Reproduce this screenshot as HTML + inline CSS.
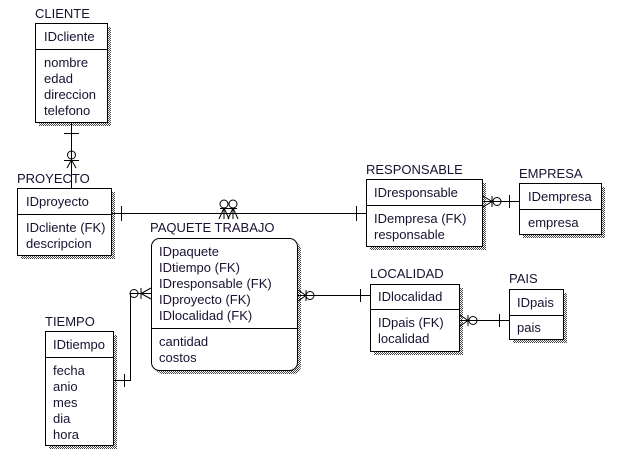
<!DOCTYPE html>
<html><head><meta charset="utf-8"><style>
body{margin:0;background:#fff}
text{font-family:"Liberation Sans",sans-serif;font-size:13px;fill:#1a1030}
</style></head><body>
<svg width="632" height="464" xmlns="http://www.w3.org/2000/svg">
<defs><pattern id="sh" width="2" height="2" patternUnits="userSpaceOnUse"><rect width="2" height="2" fill="#fff"/><rect width="1" height="1" fill="#444"/><rect x="1" y="1" width="1" height="1" fill="#444"/></pattern></defs>
<g stroke="#000" fill="none" stroke-width="1">
<g fill="url(#sh)" stroke="none">
<rect x="39" y="27" width="72" height="99"/>
<rect x="21" y="192" width="94" height="67"/>
<rect x="155" y="242" width="146" height="132" rx="8"/>
<rect x="370" y="183" width="116" height="67"/>
<rect x="523" y="187" width="82" height="51"/>
<rect x="374" y="288" width="89" height="67"/>
<rect x="513" y="293" width="54" height="50"/>
<rect x="49" y="335" width="68" height="114"/>
</g>
<rect x="35.5" y="23.5" width="72" height="99" fill="#fff"/><line x1="35" y1="49.5" x2="108" y2="49.5"/>
<rect x="17.5" y="188.5" width="94" height="67" fill="#fff"/><line x1="17" y1="214.5" x2="112" y2="214.5"/>
<rect x="151.5" y="238.5" width="146" height="132" rx="8" fill="#fff"/><line x1="151" y1="328.5" x2="298" y2="328.5"/>
<rect x="366.5" y="179.5" width="116" height="67" fill="#fff"/><line x1="366" y1="205.5" x2="483" y2="205.5"/>
<rect x="519.5" y="183.5" width="82" height="51" fill="#fff"/><line x1="519" y1="209.5" x2="602" y2="209.5"/>
<rect x="370.5" y="284.5" width="89" height="67" fill="#fff"/><line x1="370" y1="309.5" x2="460" y2="309.5"/>
<rect x="509.5" y="289.5" width="54" height="50" fill="#fff"/><line x1="509" y1="315.5" x2="564" y2="315.5"/>
<rect x="45.5" y="331.5" width="68" height="114" fill="#fff"/><line x1="45" y1="357.5" x2="114" y2="357.5"/>
<line x1="71.5" y1="123" x2="71.5" y2="188"/><line x1="64" y1="133.5" x2="79" y2="133.5"/>
<circle cx="71.5" cy="155" r="4"/><line x1="64" y1="160.5" x2="79" y2="160.5"/>
<path d="M71.5 160L67 168M71.5 160V168M71.5 160L76 168"/>
<line x1="112" y1="213.5" x2="366" y2="213.5"/><line x1="121.5" y1="206" x2="121.5" y2="221"/><line x1="356.5" y1="206" x2="356.5" y2="221"/>
<circle cx="224" cy="204" r="4"/><circle cx="233" cy="204" r="4"/>
<path d="M220 208.5H237M224 208L219 219M224 208V219M224 208L229 219M233 208L228 219M233 208V219M233 208L238 219"/>
<line x1="483" y1="201.5" x2="519" y2="201.5"/><path d="M483 196L492 201.5L483 207M492 196V207"/>
<circle cx="497" cy="201.5" r="4"/><line x1="509.5" y1="195" x2="509.5" y2="208"/>
<line x1="298" y1="295.5" x2="370" y2="295.5"/><path d="M298 290L306 295.5L298 301M306 290V301"/>
<circle cx="310" cy="295.5" r="4"/><line x1="360.5" y1="289" x2="360.5" y2="302"/>
<line x1="460" y1="320.5" x2="509" y2="320.5"/><path d="M460 315L468 320.5L460 326M468 315V326"/>
<circle cx="473" cy="320.5" r="4"/><line x1="499.5" y1="314" x2="499.5" y2="327"/>
<path d="M114 380.5H130.5V293.5H151"/><line x1="124.5" y1="374" x2="124.5" y2="387"/>
<circle cx="134" cy="293.5" r="4"/><path d="M151 288L141 293.5L151 299M141 288V299"/>
</g>
<text x="35" y="18">CLIENTE</text>
<text x="44" y="41">IDcliente</text>
<text x="44" y="67">nombre</text><text x="44" y="83">edad</text><text x="44" y="99">direccion</text><text x="44" y="115">telefono</text>
<text x="17" y="183">PROYECTO</text>
<text x="26" y="206">IDproyecto</text><text x="26" y="232">IDcliente (FK)</text><text x="26" y="248">descripcion</text>
<text x="150" y="232">PAQUETE TRABAJO</text>
<text x="159" y="256">IDpaquete</text><text x="159" y="272">IDtiempo (FK)</text><text x="159" y="288">IDresponsable (FK)</text><text x="159" y="304">IDproyecto (FK)</text><text x="159" y="320">IDlocalidad (FK)</text>
<text x="159" y="346">cantidad</text><text x="159" y="362">costos</text>
<text x="366" y="174">RESPONSABLE</text>
<text x="374" y="197">IDresponsable</text><text x="374" y="223">IDempresa (FK)</text><text x="374" y="239">responsable</text>
<text x="519" y="178">EMPRESA</text>
<text x="528" y="201">IDempresa</text><text x="528" y="227">empresa</text>
<text x="370" y="278">LOCALIDAD</text>
<text x="378" y="301">IDlocalidad</text><text x="378" y="327">IDpais (FK)</text><text x="378" y="343">localidad</text>
<text x="509" y="283">PAIS</text>
<text x="517" y="307">IDpais</text><text x="517" y="332">pais</text>
<text x="45" y="326">TIEMPO</text>
<text x="53" y="349">IDtiempo</text><text x="53" y="375">fecha</text><text x="53" y="391">anio</text><text x="53" y="407">mes</text><text x="53" y="423">dia</text><text x="53" y="439">hora</text>
</svg>
</body></html>
